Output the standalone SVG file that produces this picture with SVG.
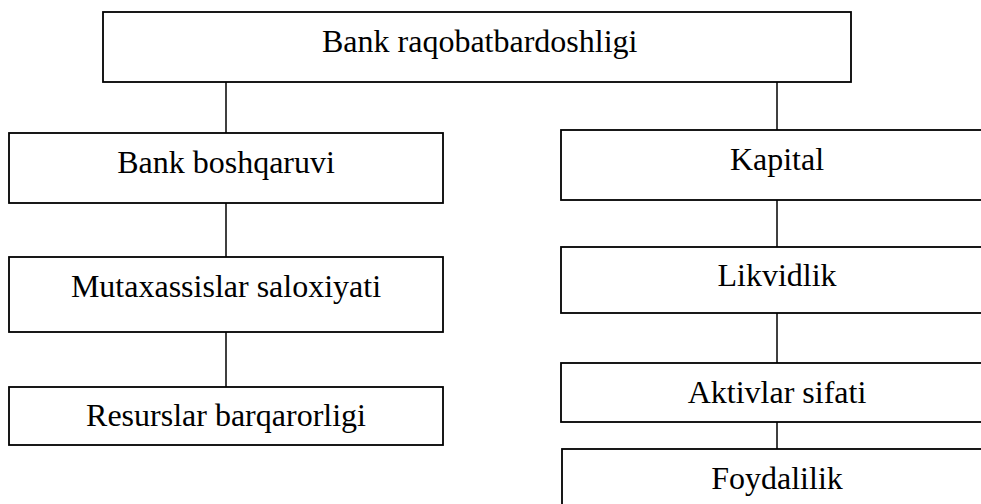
<svg xmlns="http://www.w3.org/2000/svg" width="981" height="504" viewBox="0 0 981 504">
  <style>
    .box { fill: #ffffff; stroke: #000000; stroke-width: 1.8; }
    .link { stroke: #000000; stroke-width: 1.5; fill: none; }
    .lbl { font-family: "Liberation Serif", "Times New Roman", serif; font-size: 32px; fill: #000000; }
    .mid { text-anchor: middle; }
  </style>
  <rect width="981" height="504" fill="#ffffff"/>

  <!-- connectors -->
  <g id="connectors">
    <line class="link" x1="226" y1="82" x2="226" y2="133"/>
    <line class="link" x1="777" y1="82" x2="777" y2="130"/>
    <line class="link" x1="226" y1="203" x2="226" y2="257"/>
    <line class="link" x1="226" y1="332" x2="226" y2="387"/>
    <line class="link" x1="777" y1="200" x2="777" y2="247"/>
    <line class="link" x1="777" y1="313" x2="777" y2="363"/>
    <line class="link" x1="777" y1="422" x2="777" y2="449"/>
  </g>

  <!-- root -->
  <g id="root">
    <rect class="box" x="103" y="12" width="748" height="70"/>
    <text class="lbl" x="322" y="52">Bank raqobatbardoshligi</text>
  </g>

  <!-- left branch -->
  <g id="bank-boshqaruvi">
    <rect class="box" x="9" y="133" width="434" height="70"/>
    <text class="lbl mid" x="226" y="173">Bank boshqaruvi</text>
  </g>
  <g id="mutaxassislar">
    <rect class="box" x="9" y="257" width="434" height="75"/>
    <text class="lbl mid" x="226" y="297">Mutaxassislar saloxiyati</text>
  </g>
  <g id="resurslar">
    <rect class="box" x="9" y="387" width="434" height="58"/>
    <text class="lbl mid" x="226" y="426">Resurslar barqarorligi</text>
  </g>

  <!-- right branch -->
  <g id="kapital">
    <rect class="box" x="561" y="130" width="432" height="70"/>
    <text class="lbl mid" x="777" y="170">Kapital</text>
  </g>
  <g id="likvidlik">
    <rect class="box" x="561" y="247" width="432" height="66"/>
    <text class="lbl mid" x="777" y="286">Likvidlik</text>
  </g>
  <g id="aktivlar">
    <rect class="box" x="561" y="363" width="432" height="59"/>
    <text class="lbl mid" x="777" y="403">Aktivlar sifati</text>
  </g>
  <g id="foydalilik">
    <rect class="box" x="562" y="449" width="431" height="70"/>
    <text class="lbl mid" x="777" y="489">Foydalilik</text>
  </g>
</svg>
